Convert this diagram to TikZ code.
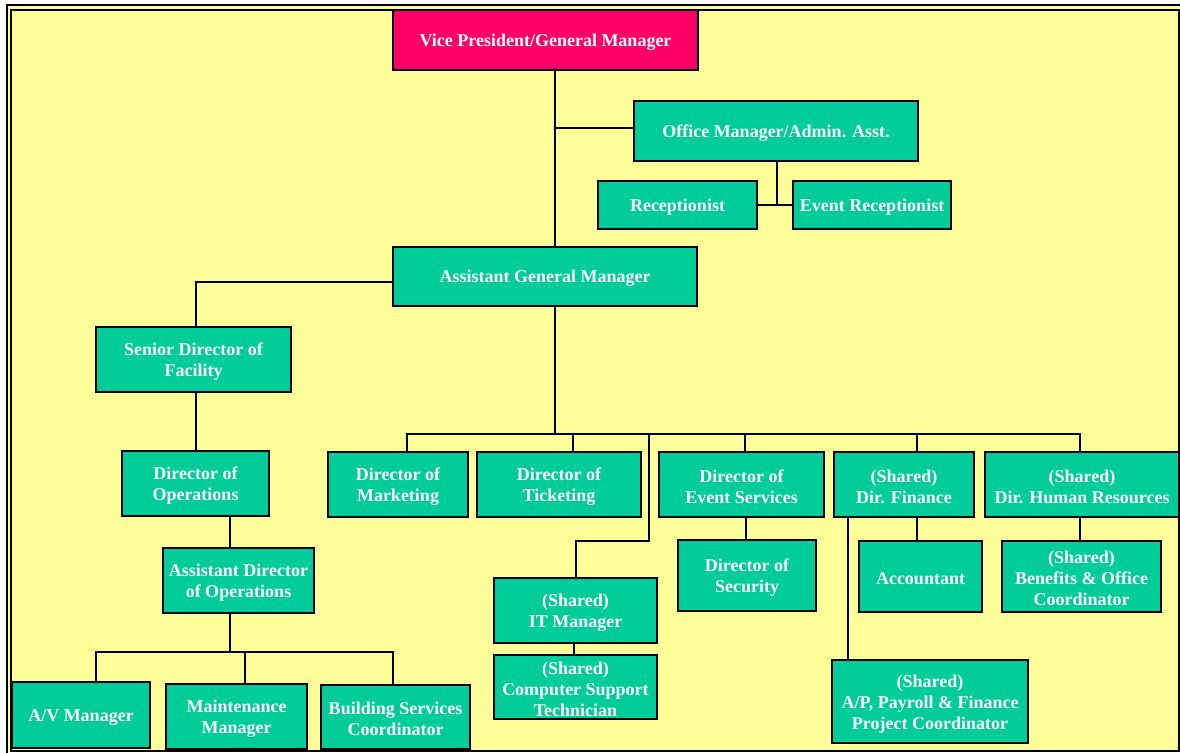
\documentclass[tikz,border=0pt]{standalone}
\usepackage{fontspec}
\setmainfont{Liberation Serif}
\definecolor{bgyellow}{HTML}{FFFF99}
\definecolor{boxgreen}{HTML}{00CC99}
\definecolor{vpred}{HTML}{FF0066}
\begin{document}
\begin{tikzpicture}[x=1pt,y=-1pt,
  box/.style={draw=black, line width=1.5pt, fill=boxgreen, inner sep=0pt,
    label={[boxtext]center:#1}},
  boxtext/.style={text=white, font=\bfseries\fontsize{18}{21}\selectfont,
    align=center, inner sep=0pt, yshift=-2.2pt},
  conn/.style={line width=1.5pt, line cap=rect}]
\useasboundingbox (0,0) rectangle (1180,752);
\clip (0,0) rectangle (1180,752);
\fill[white] (0,0) rectangle (1180,752);
\fill[bgyellow] (6,4) rectangle (1180,752);
\draw[line width=2pt] (7,5) rectangle (1200,770);
\draw[line width=2pt] (11,10) rectangle (1179,750.5);

% nodes
\node[box={Vice President/General Manager}, fill=vpred, minimum width=305, minimum height=60] (vp) at (545.5,40) {};
\node[box={Office Manager/Admin. Asst.}, minimum width=284, minimum height=60] (om) at (776,131) {};
\node[box={Receptionist}, minimum width=159, minimum height=48] (rec) at (677.5,205) {};
\node[box={Event Receptionist}, minimum width=158, minimum height=48] (erec) at (872,205) {};
\node[box={Assistant General Manager}, minimum width=304, minimum height=59] (agm) at (545,276.5) {};
\node[box={Senior Director of\\Facility}, minimum width=195, minimum height=65] (sdf) at (193.5,359.5) {};
\node[box={Director of\\Operations}, minimum width=147, minimum height=65] (dop) at (195.5,483.5) {};
\node[box={Assistant Director\\of Operations}, minimum width=151, minimum height=65] (adop) at (238.5,580.5) {};
\node[box={A/V Manager}, minimum width=138, minimum height=66] (av) at (81,715) {};
\node[box={Maintenance\\Manager}, minimum width=141, minimum height=65] (mm) at (236.5,716.5) {};
\node[box={Building Services\\Coordinator}, minimum width=149, minimum height=64] (bsc) at (395.5,717) {};
\node[box={Director of\\Marketing}, minimum width=140, minimum height=65] (dmk) at (398,484.5) {};
\node[box={Director of\\Ticketing}, minimum width=164, minimum height=65] (dtk) at (559,484.5) {};
\node[box={Director of\\Event Services}, minimum width=165, minimum height=65] (des) at (741.5,484.5) {};
\node[box={(Shared)\\Dir. Finance}, minimum width=140, minimum height=65] (dfin) at (904,484.5) {};
\node[box={(Shared)\\Dir. Human Resources}, minimum width=194, minimum height=65] (dhr) at (1082,484.5) {};
\node[box={Director of\\Security}, minimum width=138, minimum height=71] (dsec) at (747,575.5) {};
\node[box={Accountant}, minimum width=123, minimum height=71] (acc) at (920.5,576.5) {};
\node[box={(Shared)\\Benefits \& Office\\Coordinator}, minimum width=159, minimum height=71] (ben) at (1081.5,576.5) {};
\node[box={(Shared)\\IT Manager}, minimum width=163, minimum height=65] (itm) at (575.5,610.5) {};
\node[box={(Shared)\\Computer Support\\Technician}, minimum width=163, minimum height=64] (cst) at (575.5,687) {};
\node[box={(Shared)\\A/P, Payroll \& Finance\\Project Coordinator}, minimum width=196, minimum height=83] (ap) at (930,701.5) {};

% helper coordinates
\coordinate (trunk) at (555,0);
\coordinate (omx) at (777,205);
\coordinate (agml) at (0,282);
\coordinate (sdfx) at (196,0);
\coordinate (opx) at (230,0);
\coordinate (busA) at (0,652);
\coordinate (busB) at (0,434);
\coordinate (avx) at (96,0);
\coordinate (mmx) at (245,0);
\coordinate (bsx) at (393,0);
\coordinate (mkx) at (407,0);
\coordinate (tkx) at (573,0);
\coordinate (itx) at (649,541);
\coordinate (itmx) at (576,0);
\coordinate (cstx) at (574,0);
\coordinate (esx) at (745,0);
\coordinate (secx) at (746,0);
\coordinate (finx) at (917,0);
\coordinate (apx) at (848,0);
\coordinate (hrx) at (1080,0);
\coordinate (omy) at (0,128);

% connectors
\draw[conn] (vp.south -| trunk) -- (agm.north -| trunk);
\draw[conn] (trunk |- omy) -- (om.west |- omy);
\draw[conn] (om.south -| omx) -- (omx);
\draw[conn] (rec.east) -- (erec.west);
\draw[conn] (agm.west |- agml) -- (sdfx |- agml) -- (sdf.north -| sdfx);
\draw[conn] (sdf.south -| sdfx) -- (dop.north -| sdfx);
\draw[conn] (dop.south -| opx) -- (adop.north -| opx);
\draw[conn] (adop.south -| opx) -- (opx |- busA);
\draw[conn] (av.north -| avx) -- (avx |- busA) -- (bsx |- busA) -- (bsc.north -| bsx);
\draw[conn] (mmx |- busA) -- (mm.north -| mmx);
\draw[conn] (agm.south -| trunk) -- (trunk |- busB);
\draw[conn] (dmk.north -| mkx) -- (mkx |- busB) -- (hrx |- busB) -- (dhr.north -| hrx);
\draw[conn] (tkx |- busB) -- (dtk.north -| tkx);
\draw[conn] (esx |- busB) -- (des.north -| esx);
\draw[conn] (finx |- busB) -- (dfin.north -| finx);
\draw[conn] (itx |- busB) -- (itx) -- (itmx |- itx) -- (itm.north -| itmx);
\draw[conn] (itm.south -| cstx) -- (cst.north -| cstx);
\draw[conn] (des.south -| secx) -- (dsec.north -| secx);
\draw[conn] (dfin.south -| finx) -- (acc.north -| finx);
\draw[conn] (dfin.south -| apx) -- (ap.north -| apx);
\draw[conn] (dhr.south -| hrx) -- (ben.north -| hrx);
\end{tikzpicture}
\end{document}
